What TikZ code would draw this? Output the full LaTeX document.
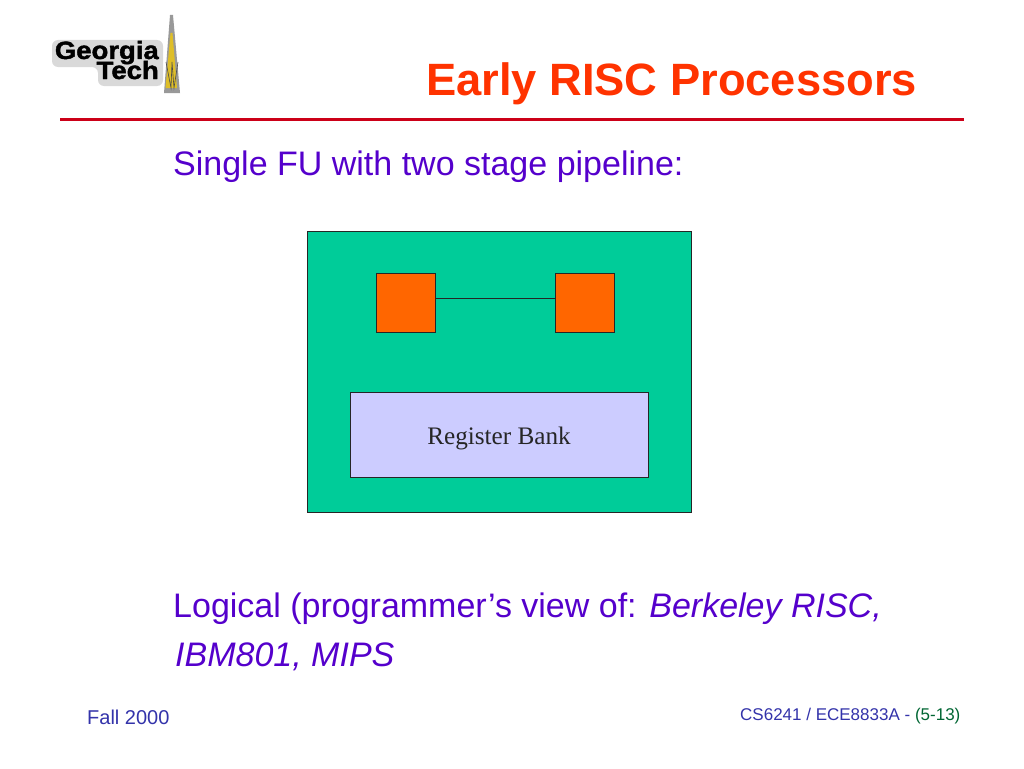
\documentclass[tikz,border=0pt]{standalone}
\usepackage{fontspec}
\setmainfont{Liberation Sans}
\newfontfamily\serifbank{Liberation Serif}
\newfontfamily\logofont[FakeBold=1.6]{Liberation Sans Bold}
\definecolor{slidered}{RGB}{255,51,0}
\definecolor{slidepurple}{RGB}{85,0,204}
\definecolor{slidegreen}{RGB}{0,204,153}
\definecolor{sliderule}{RGB}{204,0,24}
\definecolor{fuorange}{RGB}{255,102,0}
\definecolor{banklilac}{RGB}{204,204,255}
\definecolor{footblue}{RGB}{51,51,170}
\definecolor{footgreen}{RGB}{0,102,51}
\definecolor{towergold}{RGB}{222,190,40}
\tikzset{
    slidetext/.style = {inner sep=0pt, anchor=base west, text=slidepurple, font=\fontsize{34}{34}\selectfont},
    foottext/.style = {inner sep=0pt, anchor=base west, text=footblue, font=\fontsize{17}{17}\selectfont},
    logotext/.style = {inner sep=0pt, anchor=base east, xscale=1.1, font=\logofont\fontsize{25}{25}\selectfont},
    fubox/.style = {draw=black!85, fill=fuorange, line width=1pt, inner sep=0pt, minimum width=59pt, minimum height=59pt},
}
\begin{document}
\begin{tikzpicture}[x=1pt,y=-1pt]
        \useasboundingbox (0,0) rectangle (1024,768);
        \fill[white] (0,0) rectangle (1024,768);
        % logo
        \fill[black!15, rounded corners=6pt] (52,40) -- (163,40) -- (163,86) -- (98,86) -- (98,67) -- (52,67) -- cycle;
        \node[logotext] (georgia) at (159,59) {Georgia};
        \node[logotext] (tech) at (159,79) {Tech};
        \fill[black!40] (170,15) -- (173,15) -- (180,93) -- (164,93) -- cycle;
        \fill[towergold] (170.5,33) -- (172.5,33) -- (177,88) -- (165.5,88) -- cycle;
        \draw[black!70, line width=0.6pt] (166,62) -- (171,88) -- (172,62) -- (174,88) -- (178,62);
        % title
        \node[inner sep=0pt, anchor=base] (title) at (671.5,95) {\textcolor{slidered}{\bfseries\fontsize{45.3}{45.3}\selectfont Early RISC Processors}};
        \draw[sliderule, line width=3pt] (60,119.5) -- (964,119.5);
        % body text
        \node[slidetext] (single) at (173,175) {Single FU with two stage pipeline:};
        \node[slidetext] (logical) at (173,617) {Logical (programmer’s view of: \textit{Berkeley RISC,}};
        \node[slidetext] (ibm) at (175,666) {\textit{IBM801, MIPS}};
        % pipeline
        \node[draw=black!85, fill=slidegreen, line width=1pt, inner sep=0pt, minimum width=384pt, minimum height=281pt] (chip) at (499,371.5) {};
        \node[fubox] (fuleft) at (405.5,302.5) {};
        \node[fubox] (furight) at (584.5,302.5) {};
        \node[draw=black!85, fill=banklilac, line width=1pt, inner sep=0pt, minimum width=298pt, minimum height=85pt, font=\serifbank\fontsize{25.2}{25.2}\selectfont, text=black!85] (bank) at (499,435) {\raisebox{-9.5pt}[0pt][0pt]{Register Bank}};
        \draw[black!85, line width=1pt] ([yshift=4.5pt]fuleft.east) -- ([yshift=4.5pt]furight.west);
        % footer
        \node[foottext, font=\fontsize{20}{20}\selectfont] (term) at (87,724) {Fall 2000};
        \node[foottext] (course) at (740,720) {CS6241 / ECE8833A - \textcolor{footgreen}{(5-13)}};
    \end{tikzpicture}
\end{document}
